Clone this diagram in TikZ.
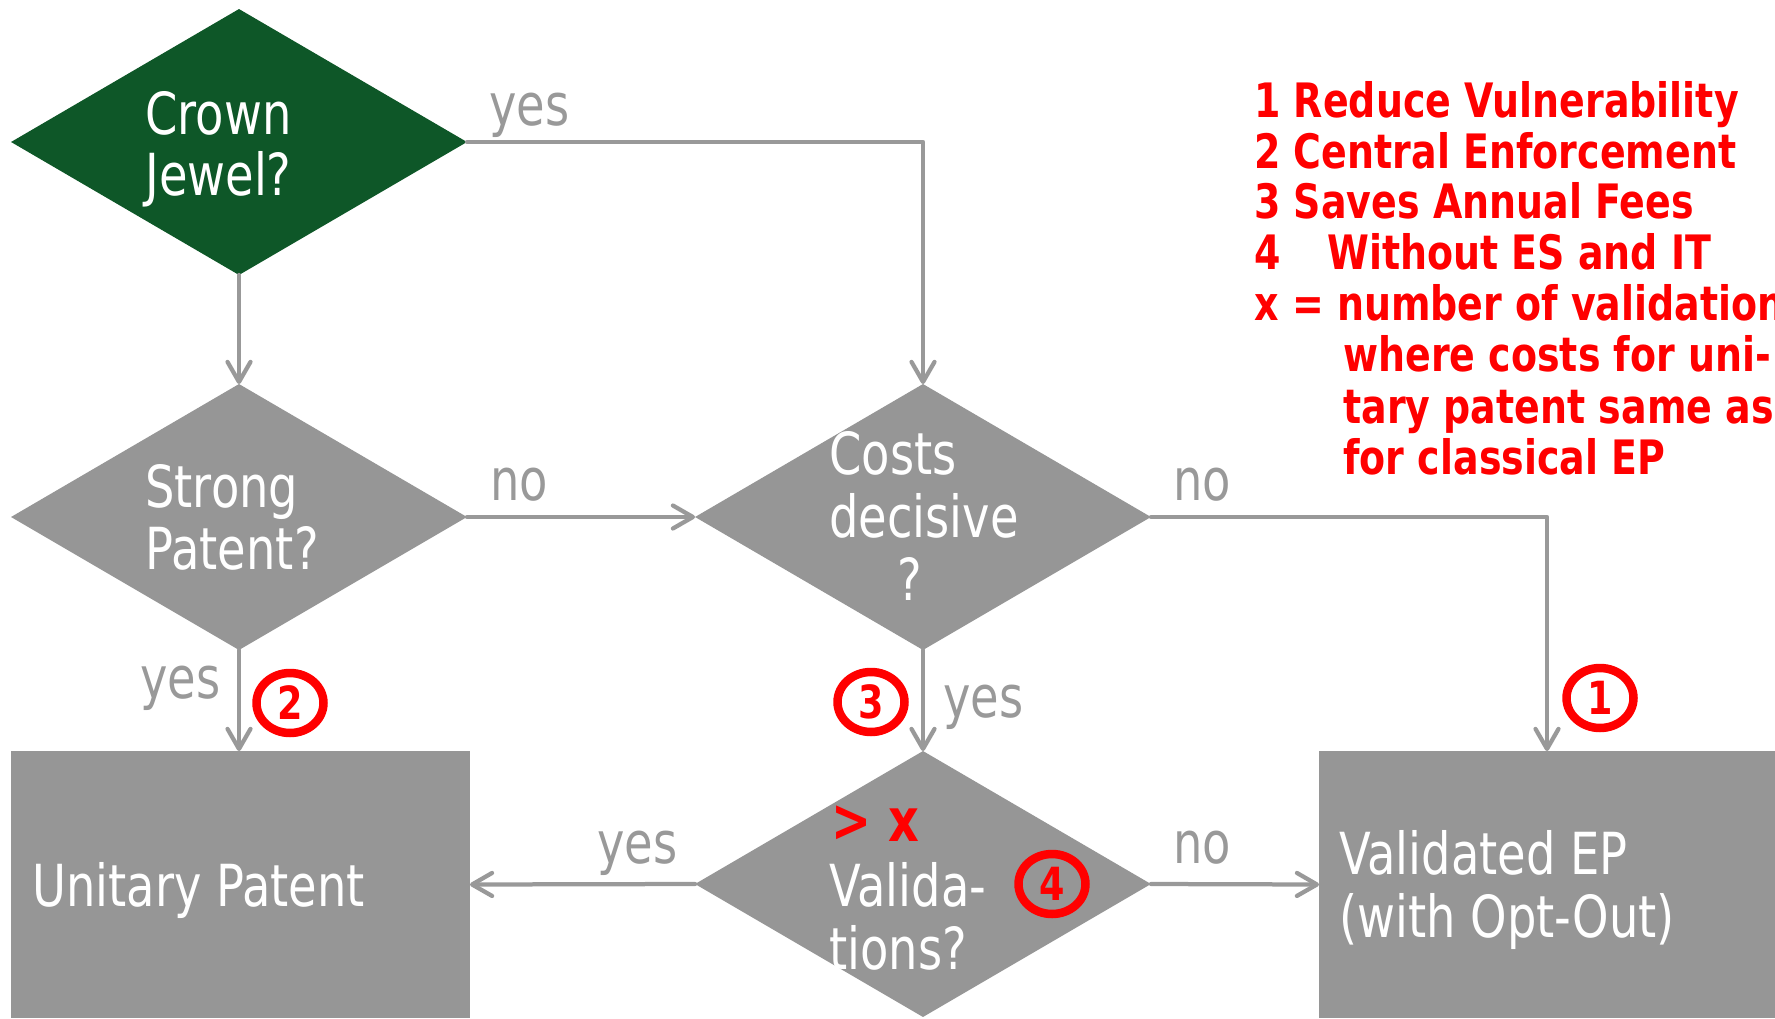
\documentclass[tikz,border=0pt]{standalone}
\usepackage{fontspec}
\setmainfont{DejaVu Sans}[FakeStretch=0.8]
\usetikzlibrary{arrows.meta,shapes.geometric}
\definecolor{jewel}{RGB}{14,87,40}
\definecolor{boxgray}{RGB}{150,150,150}
\definecolor{linegray}{RGB}{153,153,153}
\definecolor{hotred}{RGB}{255,0,0}
\begin{document}
\begin{tikzpicture}[x=0.02cm,y=-0.02cm,
  dia/.style={diamond, fill=boxgray, minimum width=9.12cm, minimum height=5.32cm, inner sep=0pt, outer sep=0pt},
  box/.style={rectangle, fill=boxgray, inner sep=0pt, outer sep=0pt, minimum height=5.34cm},
  txt/.style={anchor=base west, inner sep=0pt, text=white, font=\fontsize{33}{35}\selectfont},
  lbl/.style={anchor=base west, inner sep=0pt, text=linegray, font=\fontsize{33}{35}\selectfont},
  leg/.style={anchor=base west, inner sep=0pt, text=hotred, font=\bfseries\fontsize{27}{29}\selectfont},
  badge/.style={ellipse, draw=hotred, line width=0.17cm, minimum width=1.34cm, minimum height=1.2cm, inner sep=0pt, text=hotred, font=\bfseries\fontsize{26}{28}\selectfont},
  flow/.style={draw=linegray, line width=0.085cm, line cap=round, line join=round, -{Straight Barb[length=0.4cm,width=0.46cm,round]}},
]
\useasboundingbox (0,0) rectangle (1775,1018);
\clip (0,0) rectangle (1775,1018);
% shapes
\node[dia, fill=jewel] (crown) at (239,142) {};
\node[dia] (strong) at (239,517) {};
\node[dia] (costs) at (923,517) {};
\node[dia] (valid) at (923,884) {};
\node[box, minimum width=9.18cm] (unitary) at (240.5,884.5) {};
\node[box, minimum width=9.12cm] (validated) at (1547,884.5) {};
% connectors
\draw[flow] (crown.east) -| (costs.north);
\draw[flow] (crown.south) -- (strong.north);
\draw[flow] (strong.east) -- (costs.west);
\draw[flow] (costs.east) -| (validated.north);
\draw[flow] (strong.south) -- (strong.south |- unitary.north);
\draw[flow] (costs.south) -- (valid.north);
\draw[flow] (valid.west) -- (unitary.east);
\draw[flow] (valid.east) -- (validated.west);
% texts in shapes
\node[txt] (tcrown1) at (145,134) {Crown};
\node[txt] (tcrown2) at (145,195) {Jewel?};
\node[txt] (tstrong1) at (145,507) {Strong};
\node[txt] (tstrong2) at (145,569) {Patent?};
\node[txt] (tcosts1) at (829,474) {Costs};
\node[txt] (tcosts2) at (829,537) {decisive};
\node[txt] (tcosts3) at (897,600) {?};
\node[txt, text=hotred, font=\bfseries\fontsize{34}{36}\selectfont] (tgtx) at (831,841) {> x};
\node[txt] (tvalid1) at (829,906) {Valida-};
\node[txt] (tvalid2) at (829,969) {tions?};
\node[txt] (tunitary) at (32,906) {Unitary Patent};
\node[txt] (tvalidated1) at (1339,874) {Validated EP};
\node[txt] (tvalidated2) at (1339,937) {(with Opt-Out)};
% connector labels
\node[lbl] (lyes1) at (489,125) {yes};
\node[lbl] (lno1) at (490,500) {no};
\node[lbl] (lno2) at (1173,500) {no};
\node[lbl] (lyes2) at (140,698) {yes};
\node[lbl] (lyes3) at (943,717) {yes};
\node[lbl] (lyes4) at (597,863) {yes};
\node[lbl] (lno3) at (1173,863) {no};
% badges
\node[badge] (b1) at (1600,698) {1};
\node[badge] (b2) at (290,703) {2};
\node[badge] (b3) at (871,702) {3};
\node[badge] (b4) at (1052,884) {4};
% legend
\node[leg] (leg1) at (1254,117) {1 Reduce Vulnerability};
\node[leg] (leg2) at (1254,168) {2 Central Enforcement};
\node[leg] (leg3) at (1254,218) {3 Saves Annual Fees};
\node[leg] (leg4a) at (1254,269) {4};
\node[leg] (leg4b) at (1327,269) {Without ES and IT};
\node[leg] (leg5) at (1254,320) {x = number of validations};
\node[leg] (leg6) at (1343,371) {where costs for uni-};
\node[leg] (leg7) at (1343,423) {tary patent same as};
\node[leg] (leg8) at (1343,474) {for classical EP};
\end{tikzpicture}
\end{document}
